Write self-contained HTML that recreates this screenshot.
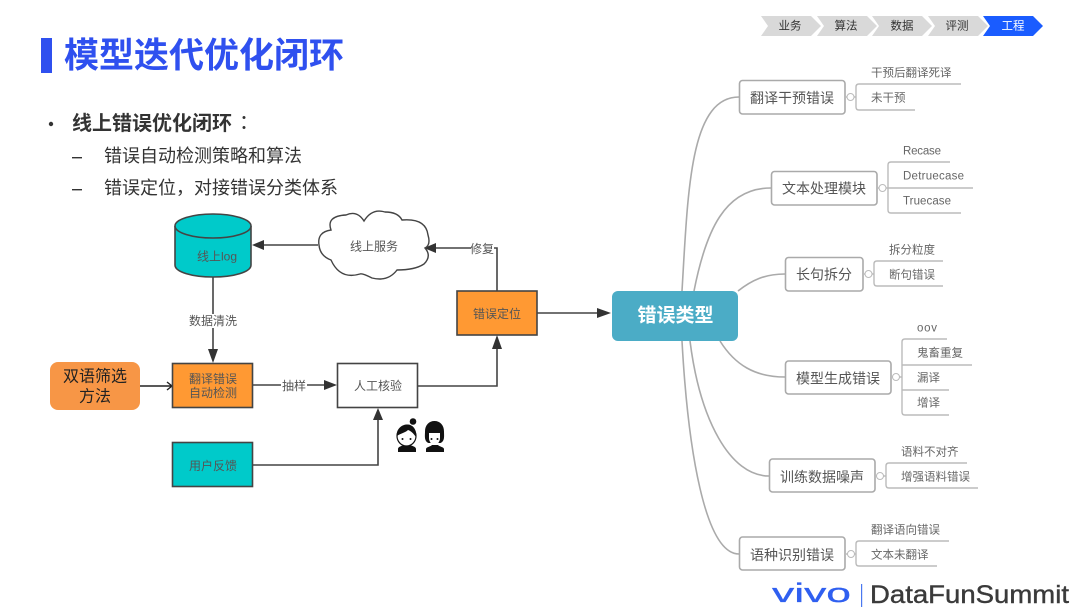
<!DOCTYPE html>
<html lang="zh"><head><meta charset="utf-8"><title>模型迭代优化闭环</title>
<style>
html,body{margin:0;padding:0;background:#fff}
svg{display:block}
text{font-family:"Liberation Sans","Noto Sans CJK SC",sans-serif;dominant-baseline:central}
.m{text-anchor:middle}
.n{font-size:12px;fill:#555;text-anchor:middle}
.mm{font-size:14px;fill:#555;text-anchor:middle}
.s{font-size:11.5px;fill:#666}
.box{fill:#fff;stroke:#aaa;stroke-width:1.6}
.cv{fill:none;stroke:#aaa;stroke-width:1.6}
.br{fill:none;stroke:#bbb;stroke-width:1.4}
.c{fill:#fff;stroke:#bbb;stroke-width:1}
.l{fill:none;stroke:#444;stroke-width:1.6}
.b{stroke:#444;stroke-width:1.6}
.a{fill:#333}
.tc{font-family:"Liberation Sans","Noto Sans CJK TC",sans-serif}
</style></head><body>
<svg width="1080" height="608" viewBox="0 0 1080 608" xmlns="http://www.w3.org/2000/svg">
<rect width="1080" height="608" fill="#fff"/>
<!-- Title -->
<rect x="41" y="38" width="11" height="35" fill="#2f50ef"/>
<text x="64" y="56" font-size="35" font-weight="700" fill="#2f50ef">模型迭代优化闭环</text>
<circle cx="51" cy="124" r="2.2" fill="#333"/>
<text x="72" y="124" font-size="20" font-weight="700" fill="#333">线上错误优化闭环</text>
<text class="tc" x="234" y="124" font-size="20" fill="#333">：</text>
<rect x="72" y="157" width="10" height="1.4" fill="#333"/>
<rect x="72" y="189" width="10" height="1.4" fill="#333"/>
<text x="104" y="156" font-size="18" fill="#333">错误自动检测策略和算法</text>
<text x="104" y="188" font-size="18" fill="#333">错误定位<tspan class="tc">，</tspan>对接错误分类体系</text>
<!-- Chevrons -->
<g fill="#d9d9d9">
<path d="M761 16H811L821 26L811 36H761L768 26Z"/>
<path d="M817 16H867L877 26L867 36H817L824 26Z"/>
<path d="M872 16H922L932 26L922 36H872L879 26Z"/>
<path d="M928 16H978L988 26L978 36H928L935 26Z"/>
<path d="M983 16H1033L1043 26L1033 36H983L990 26Z" fill="#1a5cff"/>
</g>
<g font-size="11.5" class="m" fill="#333" text-anchor="middle">
<text x="790" y="26.500">业务</text><text x="846" y="26.500">算法</text><text x="902" y="26.500">数据</text><text x="957" y="26.500">评测</text><text x="1013" y="26.500" fill="#fff">工程</text>
</g>
<!-- Mind map curves -->
<path class="cv" d="M682 291C688 190 690 97 739 97"/>
<path class="cv" d="M694 291C706 230 725 188 771 188"/>
<path class="cv" d="M738 291C752 280 765 274 785 274"/>
<path class="cv" d="M720 341C735 365 755 377 785 377"/>
<path class="cv" d="M690 341C700 420 730 476 769 476"/>
<path class="cv" d="M682 341C688 450 705 554 739 554"/>
<rect x="612" y="291" width="126" height="50" rx="6" fill="#4bacc6"/>
<text x="675.500" y="316" font-size="19" font-weight="700" fill="#fff" text-anchor="middle">错误类型</text>
<!-- Branch 1 -->
<rect class="box" x="739.500" y="80.500" width="105.500" height="33.500" rx="3"/>
<text class="mm" x="792" y="98">翻译干预错误</text>
<path class="br" d="M845 97H847M854 97H856M961 84H859Q856 84 856 87V107Q856 110 859 110H915"/>
<circle class="c" cx="850.500" cy="97" r="3.500"/>
<text class="s" x="871" y="73.500">干预后翻译死译</text><text class="s" x="871" y="98.500">未干预</text>
<!-- Branch 2 -->
<rect class="box" x="771.500" y="171.500" width="105.500" height="33.500" rx="3"/>
<text class="mm" x="824" y="188.500">文本处理模块</text>
<path class="br" d="M877 188H879M886 188H973M950 162H891Q888 162 888 165V210Q888 213 891 213H961"/>
<circle class="c" cx="882.500" cy="188" r="3.500"/>
<text class="s" x="903" y="151.500" textLength="38">Recase</text><text class="s" x="903" y="176.500" textLength="61">Detruecase</text><text class="s" x="903" y="201.500" textLength="48">Truecase</text>
<!-- Branch 3 -->
<rect class="box" x="785.500" y="257.500" width="77.500" height="33.500" rx="3"/>
<text class="mm" x="824" y="274.500">长句拆分</text>
<path class="br" d="M863 274H865M872 274H874M943 261H877Q874 261 874 264V283Q874 286 877 286H943"/>
<circle class="c" cx="868.500" cy="274" r="3.500"/>
<text class="s" x="889" y="250.500">拆分粒度</text><text class="s" x="889" y="275.500">断句错误</text>
<!-- Branch 4 -->
<rect class="box" x="785.500" y="361" width="105.500" height="33" rx="3"/>
<text class="mm" x="838" y="378.500">模型生成错误</text>
<path class="br" d="M891 377H892.500M899.500 377H902M947 339H905Q902 339 902 342V412Q902 415 905 415H949M902 365H972M902 390H949"/>
<circle class="c" cx="896" cy="377" r="3.500"/>
<text class="s" x="917" y="328.500" textLength="20">oov</text><text class="s" x="917" y="353.500">鬼畜重复</text><text class="s" x="917" y="378.500">漏译</text><text class="s" x="917" y="403.500">增译</text>
<!-- Branch 5 -->
<rect class="box" x="769.500" y="459" width="105.500" height="33" rx="3"/>
<text class="mm" x="822" y="477">训练数据噪声</text>
<path class="br" d="M875 476H876.500M883.500 476H886M967 463H889Q886 463 886 466V485Q886 488 889 488H978"/>
<circle class="c" cx="880" cy="476" r="3.500"/>
<text class="s" x="901" y="452.500">语料不对齐</text><text class="s" x="901" y="477.500">增强语料错误</text>
<!-- Branch 6 -->
<rect class="box" x="739.500" y="537" width="105.500" height="33" rx="3"/>
<text class="mm" x="792" y="555">语种识别错误</text>
<path class="br" d="M845 554H847.500M854.500 554H856M949 541H859Q856 541 856 544V563Q856 566 859 566H937"/>
<circle class="c" cx="851" cy="554" r="3.500"/>
<text class="s" x="871" y="530.500">翻译语向错误</text><text class="s" x="871" y="555.500">文本未翻译</text>
<!-- Flow connectors -->
<path class="l" d="M318 245H262"/><path class="a" d="M252 245L264 240V250Z"/>
<path class="l" d="M497 291V248H434"/><path class="a" d="M424 248L436 243V253Z"/>
<path class="l" d="M537 313H600"/><path class="a" d="M611 313L597 308V318Z"/>
<path class="l" d="M417 386H497V345"/><path class="a" d="M497 335L492 349H502Z"/>
<path class="l" d="M213 277V352"/><path class="a" d="M213 363L208 349H218Z"/>
<path class="l" d="M253 385H326"/><path class="a" d="M337 385L324 380V390Z"/>
<path class="l" d="M253 465H378V418"/><path class="a" d="M378 408L373 420H383Z"/>
<path fill="none" stroke="#222" stroke-width="1.400" d="M140 386H171M167 382L172 386L167 390"/>
<!-- Cylinder -->
<path class="b" fill="#00caca" d="M175 226V265C175 272 192 277 213 277C234 277 251 272 251 265V226"/>
<ellipse class="b" cx="213" cy="226" rx="38" ry="12" fill="#00caca"/>
<text class="n" x="217" y="256.500">线上log</text>
<!-- Cloud -->
<path d="M319 245Q317 232 331 230Q326 216 346 215Q357 210 364 221Q372 208 385 212Q398 212 402 220Q426 218 428 235Q431 245 425 248Q432 256 424 264Q415 270 397 270Q388 282 372 278Q362 273 360 274Q340 280 331 260Q320 256 319 245Z" fill="#fff" stroke="#444" stroke-width="1.400"/>
<text class="n" x="374" y="246.500">线上服务</text>
<!-- Boxes -->
<rect class="b" x="457" y="291" width="80" height="44" fill="#ff9933"/>
<text class="n" x="497" y="314" fill="#555">错误定位</text>
<rect class="b" x="172.500" y="363.500" width="80" height="44" fill="#ff9933"/>
<text class="n" x="213" y="379">翻译错误</text><text class="n" x="213" y="393">自动检测</text>
<rect class="b" x="337.500" y="363.500" width="80" height="44" fill="#fff"/>
<text class="n" x="378" y="386">人工核验</text>
<rect class="b" x="172.500" y="442.500" width="80" height="44" fill="#00caca"/>
<text class="n" x="213" y="466">用户反馈</text>
<rect x="50" y="362" width="90" height="48" rx="8" fill="#f79646"/>
<text x="95" y="377" font-size="16" fill="#222" text-anchor="middle">双语筛选</text>
<text x="95" y="397" font-size="16" fill="#222" text-anchor="middle">方法</text>
<!-- Edge labels -->
<rect x="190" y="314" width="46" height="14" fill="#fff"/><text class="n" x="213" y="321">数据清洗</text>
<rect x="281" y="379" width="26" height="14" fill="#fff"/><text class="n" x="294" y="386">抽样</text>
<rect x="471" y="242" width="23" height="14" fill="#fff"/><text class="n" x="482" y="249">修复</text>
<!-- People -->
<g>
<path d="M398 452V449C398 446.500 402 446 404 445H410C412 446 416 446.500 416 449V452Z" fill="#111"/>
<ellipse cx="406.500" cy="436" rx="9.500" ry="10" fill="#fff" stroke="#111" stroke-width="1.200"/>
<path d="M397 436C396 428 403 424 408 424.500C414 425 417 431 416 437C413 433 411 431 408 430C405 433 401 433 397 436Z" fill="#111"/>
<circle cx="413" cy="421.500" r="3.300" fill="#111"/>
<circle cx="402.500" cy="439" r="1" fill="#111"/><circle cx="410.500" cy="439" r="1" fill="#111"/>
<path d="M426 452V449C426 447 431 446.500 432 445H438C439 446.500 444 447 444 449V452Z" fill="#111"/>
<path d="M428.500 443C424 441 425 436 425 431.500C425 425 429 421 434.500 421C440 421 444 425 444 431.500C444 436 445 441 440.500 443Z" fill="#111"/>
<path d="M429 433H440V438C440 442 437 445 434.500 445C432 445 429 442 429 438Z" fill="#fff"/>
<circle cx="431.500" cy="439" r="1" fill="#111"/><circle cx="437.500" cy="439" r="1" fill="#111"/>
</g>
<!-- Logo -->
<text x="772" y="602" font-size="27" fill="#2f5ff0" stroke="#2f5ff0" stroke-width="0.300" textLength="79" lengthAdjust="spacingAndGlyphs" style="dominant-baseline:auto">vivo</text>
<rect x="861" y="584" width="1.200" height="23" fill="#4a78f0"/>
<text x="870" y="603" font-size="25" fill="#3a3a3a" stroke="#3a3a3a" stroke-width="0.400" textLength="199" lengthAdjust="spacingAndGlyphs" style="dominant-baseline:auto">DataFunSummit</text>
</svg>
</body></html>
